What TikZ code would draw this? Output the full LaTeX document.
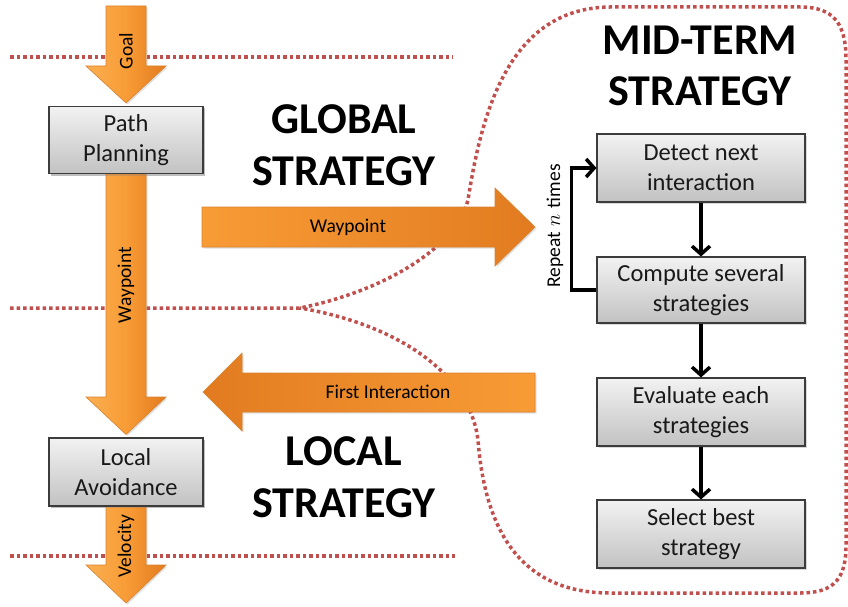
\documentclass[tikz,border=0pt]{standalone}
\usepackage{fontspec}
\setmainfont{Carlito}
\usetikzlibrary{arrows.meta,shadows,calc}
\definecolor{dotred}{HTML}{C0504D}
\definecolor{orA}{HTML}{FAB052}
\definecolor{orB}{HTML}{F89C36}
\definecolor{orC}{HTML}{E27B20}
\definecolor{orEdge}{HTML}{D9822E}
\definecolor{boxtop}{HTML}{F2F2F2}
\definecolor{boxbot}{HTML}{C2C2C2}
\definecolor{boxedge}{HTML}{3C3C3C}
\begin{document}
\begin{tikzpicture}[x=1pt,y=-1pt,
  dotline/.style={draw=dotred,line width=3.5pt,dash pattern=on 3.5pt off 3pt},
  stepbox/.style={rectangle,draw=boxedge,line width=1.1pt,top color=boxtop,bottom color=boxbot,
    align=center,font=\fontsize{24.5}{30}\selectfont,text=black!90,inner sep=0pt,
    drop shadow={shadow xshift=2pt,shadow yshift=-2pt,opacity=0.3}},
  vblock/.style={left color=orA,right color=orC,middle color=orB,draw=orEdge,line width=0.6pt,
    drop shadow={shadow xshift=1.5pt,shadow yshift=-1.5pt,opacity=0.25}},
  hblockR/.style={left color=orB,right color=orC,draw=orEdge,line width=0.6pt,
    drop shadow={shadow xshift=1.5pt,shadow yshift=-1.5pt,opacity=0.25}},
  hblockL/.style={left color=orC,right color=orB,draw=orEdge,line width=0.6pt,
    drop shadow={shadow xshift=1.5pt,shadow yshift=-1.5pt,opacity=0.25}},
  title/.style={font=\fontsize{44}{52}\selectfont\bfseries,anchor=base},
  alabel/.style={font=\fontsize{19.5}{22}\selectfont},
  link/.style={line width=3.5pt,-{Straight Barb[length=8pt,width=18pt]}}
]
\useasboundingbox (0,0) rectangle (848,607);

% dotted separators
\draw[dotline] (10,57) -- (453,57);
\draw[dotline] (10,556) -- (455,556);
\draw[dotline] (10,308) -- (300,308)
  .. controls (380,292) and (455,250) .. (468,200)
  .. controls (482,110) and (510,8) .. (610,7)
  -- (800,7) .. controls (835,7) and (846,25) .. (846,60)
  -- (846,545) .. controls (846,578) and (835,593) .. (800,593)
  -- (610,593) .. controls (520,593) and (485,530) .. (478,440)
  .. controls (470,375) and (400,325) .. (300,308);

% boxes
\node[stepbox,minimum width=154pt,minimum height=67pt] (pp) at (126,140) {Path\\Planning};
\node[stepbox,minimum width=154pt,minimum height=68pt] (la) at (126,472) {Local\\Avoidance};
\node[stepbox,minimum width=208pt,minimum height=68pt] (r1) at (701,168) {Detect next\\interaction};
\node[stepbox,minimum width=208pt,minimum height=66pt] (r2) at (701,290) {Compute several\\strategies};
\node[stepbox,minimum width=208pt,minimum height=68pt] (r3) at (701,412) {Evaluate each\\strategies};
\node[stepbox,minimum width=208pt,minimum height=68pt] (r4) at (701,534) {Select best\\strategy};

% block arrows
\coordinate (gtop) at (126,6);
\path[vblock] ($(gtop)+(-20,0)$) -- ($(gtop)+(20,0)$) -- (146,66) -- (166,66)
  -- ($(pp.north)+(0,-3)$) -- (86,66) -- (106,66) -- cycle;
\path[vblock] ($(pp.south)+(-20,0)$) -- ($(pp.south)+(20,0)$) -- (146,397) -- (166,397)
  -- ($(la.north)+(0,-3)$) -- (86,397) -- (106,397) -- cycle;
\coordinate (vtip) at (126,603);
\path[vblock] ($(la.south)+(-20,0)$) -- ($(la.south)+(20,0)$) -- (146,565) -- (166,565)
  -- (vtip) -- (86,565) -- (106,565) -- cycle;
\coordinate (wtip) at (535,227);
\path[hblockR] (202,207) -- (495,207) -- (495,188) -- (wtip) -- (495,266) -- (495,247) -- (202,247) -- cycle;
\coordinate (ftip) at (203,392);
\path[hblockL] (535,373) -- (242,373) -- (242,353) -- (ftip) -- (242,431) -- (242,412) -- (535,412) -- cycle;

% redraw left boxes on top of arrows
\node[stepbox,minimum width=154pt,minimum height=67pt] at (pp) {Path\\Planning};
\node[stepbox,minimum width=154pt,minimum height=68pt] at (la) {Local\\Avoidance};

% arrow labels
\node[alabel,rotate=90] (lgoal) at (126,51) {Goal};
\node[alabel,rotate=90] (lwp1) at (126,285) {Waypoint};
\node[alabel,rotate=90] (lvel) at (126,546) {Velocity};
\node[alabel] (lwp2) at (348,227) {Waypoint};
\node[alabel] (lfi) at (388,392) {First Interaction};
\node[alabel,rotate=90] (lrep) at (555,226) {Repeat\hspace{6pt}$n$\hspace{6pt}times};

% titles
\node[title] (gl1) at (344,133) {GLOBAL};
\node[title] (gl2) at (344,185) {STRATEGY};
\node[title] (lo1) at (344,465) {LOCAL};
\node[title] (lo2) at (344,517) {STRATEGY};
\node[title] (mt1) at (700,55) {MID-TERM};
\node[title] (mt2) at (700,106) {STRATEGY};

% connectors
\draw[link] (r1.south) -- (r2.north);
\draw[link] (r2.south) -- (r3.north);
\draw[link] (r3.south) -- (r4.north);
\draw[link] (r2.west) -- ++(-25,0) |- (r1.west);
\end{tikzpicture}
\end{document}
